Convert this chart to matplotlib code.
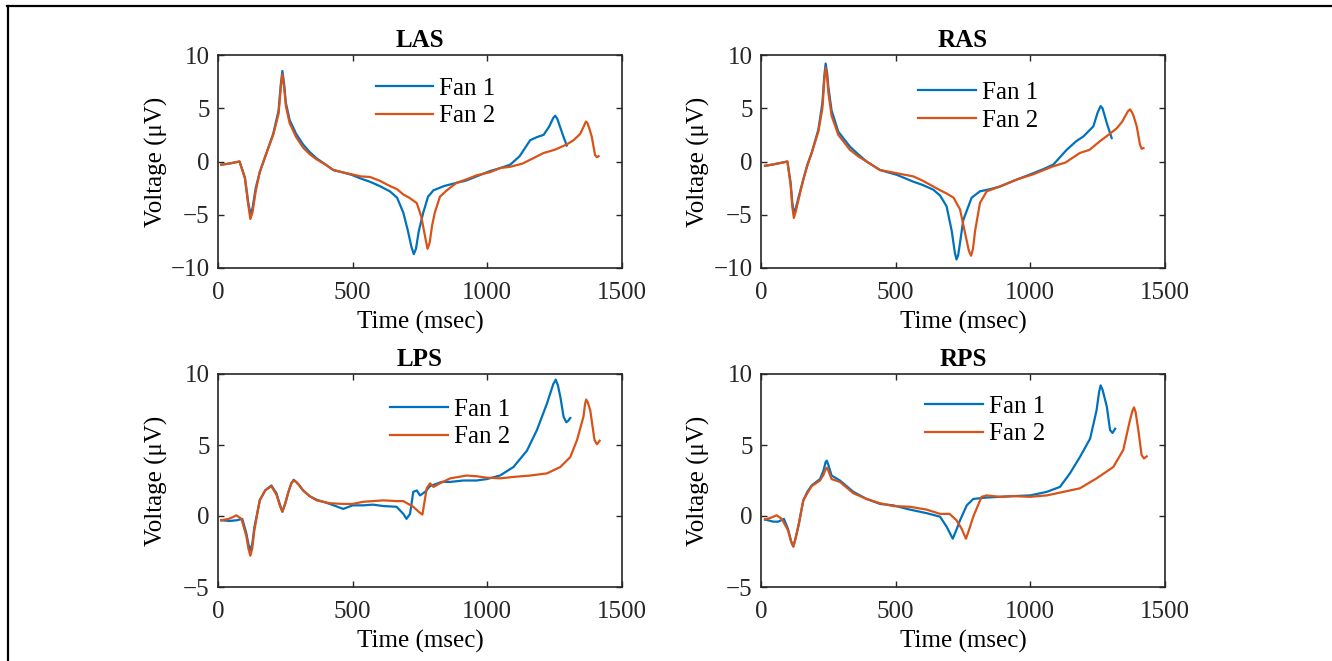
import numpy as np
import matplotlib
matplotlib.use("Agg")
import matplotlib.pyplot as plt
from matplotlib.lines import Line2D

plt.rcParams['font.family'] = ['Liberation Serif', 'DejaVu Serif']
plt.rcParams['font.size'] = 18

BLUE = "#0072BD"
ORANGE = "#D95319"
AX_COLOR = "#262626"

# ---- data (time in msec, voltage in uV) ----
# LAS
las_t1 = [12, 40, 80, 100, 112, 120, 128, 140, 155, 180, 205, 225, 233, 239, 245, 252, 266, 290,
          316, 340, 366, 400, 428, 460, 496, 530, 564, 600, 638, 665, 688, 705, 718, 727, 735,
          745, 762, 780, 800, 840, 886, 920, 960, 1010, 1050, 1085, 1120, 1159, 1185, 1209,
          1230, 1245, 1252, 1260, 1268, 1283, 1295]
las_v1 = [-0.3, -0.2, 0.0, -1.5, -3.8, -4.9, -4.4, -2.5, -1.0, 0.8, 2.6, 4.8, 7.2, 8.5, 7.4,
          5.5, 3.9, 2.6, 1.6, 0.9, 0.3, -0.3, -0.8, -1.0, -1.25, -1.6, -1.9, -2.3, -2.8, -3.4,
          -4.8, -6.5, -8.0, -8.7, -8.2, -6.6, -4.8, -3.3, -2.7, -2.3, -2.0, -1.8, -1.4, -0.9,
          -0.6, -0.3, 0.5, 2.0, 2.3, 2.5, 3.3, 4.1, 4.3, 4.0, 3.4, 2.3, 1.5]
las_t2 = [12, 40, 80, 100, 112, 120, 128, 140, 155, 180, 205, 225, 233, 239, 245, 252, 266, 290,
          316, 340, 366, 400, 428, 460, 496, 530, 564, 600, 638, 665, 688, 710, 738, 755, 770,
          778, 786, 795, 805, 824, 850, 886, 920, 960, 1010, 1050, 1085, 1130, 1170, 1209,
          1250, 1295, 1320, 1345, 1358, 1366, 1372, 1380, 1388, 1395, 1400, 1407, 1413]
las_v2 = [-0.3, -0.2, 0.0, -1.6, -4.0, -5.4, -4.8, -2.8, -1.0, 0.8, 2.5, 4.5, 6.9, 8.2, 7.1,
          5.2, 3.6, 2.3, 1.3, 0.7, 0.2, -0.3, -0.8, -1.0, -1.2, -1.4, -1.45, -1.8, -2.3, -2.6,
          -3.1, -3.4, -3.9, -5.2, -7.2, -8.2, -7.6, -6.0, -4.8, -3.3, -2.7, -2.0, -1.7, -1.3,
          -1.0, -0.6, -0.5, -0.2, 0.3, 0.8, 1.1, 1.6, 2.0, 2.6, 3.3, 3.75, 3.6, 3.0, 2.3, 1.3,
          0.6, 0.4, 0.5]

# RAS
ras_t1 = [15, 40, 70, 98, 110, 116, 122, 130, 140, 157, 172, 188, 213, 228, 235, 240, 246, 250,
          262, 287, 330, 360, 392, 442, 504, 566, 600, 640, 665, 689, 708, 720, 726, 732, 738,
          751, 782, 813, 850, 887, 949, 1011, 1050, 1085, 1135, 1170, 1197, 1234, 1250, 1261,
          1268, 1276, 1284, 1302]
ras_v1 = [-0.4, -0.3, -0.15, 0.0, -2.0, -3.8, -4.9, -4.3, -3.3, -1.7, -0.3, 0.8, 3.0, 5.5, 8.0,
          9.2, 8.2, 7.0, 4.8, 2.8, 1.4, 0.7, 0.0, -0.8, -1.25, -1.9, -2.2, -2.65, -3.2, -4.2,
          -6.5, -8.6, -9.2, -8.8, -7.8, -5.5, -3.4, -2.8, -2.6, -2.35, -1.7, -1.1, -0.7, -0.3,
          1.1, 1.9, 2.35, 3.3, 4.6, 5.2, 5.0, 4.3, 3.6, 2.2]
ras_t2 = [15, 40, 70, 98, 110, 116, 122, 130, 140, 157, 172, 188, 213, 228, 235, 240, 246, 250,
          262, 287, 330, 360, 392, 442, 504, 566, 600, 640, 665, 689, 715, 739, 760, 772, 780,
          787, 795, 813, 838, 887, 949, 1011, 1050, 1085, 1130, 1184, 1220, 1258, 1290, 1320,
          1340, 1351, 1362, 1370, 1378, 1383, 1395, 1407, 1413, 1420]
ras_v2 = [-0.4, -0.3, -0.15, 0.0, -2.2, -4.2, -5.3, -4.6, -3.5, -1.7, -0.4, 0.8, 2.8, 5.0, 7.6,
          8.8, 7.8, 6.5, 4.3, 2.5, 1.1, 0.5, 0.0, -0.8, -1.1, -1.4, -1.8, -2.35, -2.7, -3.0,
          -3.4, -4.5, -7.0, -8.4, -8.85, -8.2, -6.5, -3.9, -2.8, -2.35, -1.7, -1.2, -0.8, -0.45,
          -0.1, 0.8, 1.1, 1.9, 2.5, 3.1, 3.7, 4.2, 4.7, 4.9, 4.6, 4.3, 3.3, 1.6, 1.2, 1.25]

# LPS
lps_t1 = [12, 43, 70, 90, 105, 113, 120, 127, 135, 155, 175, 198, 217, 230, 239, 250, 260, 272,
          281, 290, 300, 316, 340, 366, 415, 465, 500, 539, 575, 614, 663, 688, 700, 713, 725,
          738, 750, 769, 787, 830, 862, 911, 960, 998, 1047, 1097, 1147, 1184, 1221, 1245, 1254,
          1262, 1271, 1283, 1293, 1300, 1308]
lps_v1 = [-0.3, -0.35, -0.3, -0.2, -1.2, -2.0, -2.4, -2.0, -0.8, 1.1, 1.8, 2.15, 1.6, 0.8, 0.3,
          0.9, 1.6, 2.3, 2.55, 2.4, 2.2, 1.8, 1.4, 1.15, 0.85, 0.5, 0.75, 0.75, 0.8, 0.7, 0.65,
          0.15, -0.2, 0.15, 1.7, 1.8, 1.45, 1.7, 2.1, 2.4, 2.4, 2.5, 2.5, 2.6, 2.85, 3.45, 4.6,
          6.05, 7.9, 9.3, 9.6, 9.2, 8.4, 7.0, 6.6, 6.7, 6.9]
lps_t2 = [12, 40, 56, 68, 87, 105, 113, 120, 127, 135, 155, 175, 198, 217, 230, 239, 250, 260,
          272, 281, 290, 300, 316, 340, 366, 415, 465, 500, 539, 575, 614, 663, 688, 725, 745,
          759, 775, 787, 800, 824, 862, 923, 960, 998, 1047, 1097, 1159, 1221, 1271, 1308, 1333,
          1357, 1363, 1367, 1373, 1382, 1398, 1407, 1417]
lps_v2 = [-0.3, -0.2, -0.07, 0.05, -0.2, -1.4, -2.3, -2.8, -2.3, -1.0, 1.1, 1.8, 2.1, 1.5, 0.7,
          0.3, 0.9, 1.6, 2.3, 2.5, 2.4, 2.2, 1.8, 1.4, 1.1, 0.9, 0.85, 0.85, 1.0, 1.05, 1.1, 1.05,
          1.05, 0.65, 0.3, 0.1, 1.95, 2.3, 2.05, 2.3, 2.65, 2.85, 2.8, 2.7, 2.65, 2.75, 2.85,
          3.0, 3.45, 4.15, 5.35, 7.0, 7.9, 8.2, 8.0, 7.45, 5.35, 5.05, 5.3]

# RPS
rps_t1 = [15, 46, 64, 85, 100, 112, 120, 128, 140, 157, 172, 188, 219, 232, 240, 244, 250, 262,
          293, 343, 392, 442, 491, 553, 615, 665, 689, 712, 725, 739, 764, 788, 837, 887, 937,
          999, 1061, 1110, 1147, 1184, 1222, 1246, 1255, 1261, 1268, 1284, 1296, 1305, 1315]
rps_v1 = [-0.25, -0.4, -0.4, -0.2, -0.9, -1.8, -2.15, -1.6, -0.6, 1.1, 1.7, 2.15, 2.6, 3.2, 3.8,
          3.9, 3.6, 2.85, 2.5, 1.7, 1.2, 0.85, 0.75, 0.45, 0.2, -0.05, -0.75, -1.6, -1.0, -0.3,
          0.75, 1.2, 1.3, 1.35, 1.4, 1.45, 1.7, 2.05, 3.0, 4.15, 5.45, 7.45, 8.7, 9.2, 8.9, 7.7,
          6.05, 5.85, 6.15]
rps_t2 = [15, 40, 58, 77, 100, 112, 120, 128, 140, 157, 172, 188, 219, 232, 240, 244, 250, 262,
          293, 343, 392, 442, 491, 553, 615, 665, 700, 726, 745, 761, 772, 788, 819, 838, 887,
          937, 999, 1061, 1123, 1184, 1246, 1308, 1345, 1370, 1379, 1385, 1391, 1401, 1413,
          1422, 1432]
rps_v2 = [-0.25, -0.1, 0.05, -0.2, -1.0, -1.8, -2.15, -1.6, -0.6, 1.1, 1.6, 2.1, 2.5, 2.9, 3.3,
          3.4, 3.2, 2.6, 2.4, 1.6, 1.2, 0.9, 0.7, 0.65, 0.45, 0.15, 0.15, -0.3, -0.9, -1.6,
          -1.0, -0.05, 1.35, 1.45, 1.35, 1.4, 1.35, 1.45, 1.7, 1.95, 2.65, 3.45, 4.65, 6.75, 7.4,
          7.65, 7.3, 6.05, 4.3, 4.05, 4.2]

titles = ["LAS", "RAS", "LPS", "RPS"]
fan1 = [(las_t1, las_v1), (ras_t1, ras_v1), (lps_t1, lps_v1), (rps_t1, rps_v1)]
fan2 = [(las_t2, las_v2), (ras_t2, ras_v2), (lps_t2, lps_v2), (rps_t2, rps_v2)]
y_limits = [(-10, 10), (-10, 10), (-5, 10), (-5, 10)]
y_ticks = [[-10, -5, 0, 5, 10], [-10, -5, 0, 5, 10], [-5, 0, 5, 10], [-5, 0, 5, 10]]
x_ticks = [0, 500, 1000, 1500]
legend_anchor = [(0.39, 0.895), (0.389, 0.875), (0.426, 0.885), (0.406, 0.90)]

W, H = 1332, 661
fig = plt.figure(figsize=(W / 100, H / 100), dpi=100)

# axes boxes in pixels: left, top, right, bottom
boxes = [(218, 55, 622, 268), (761, 55, 1165, 268), (218, 374, 622, 587), (761, 374, 1165, 587)]

for i, (l, t, r, b) in enumerate(boxes):
    ax = fig.add_axes([l / W, 1 - b / H, (r - l) / W, (b - t) / H])
    ax.plot(*fan1[i], color=BLUE, lw=1.6, label="Fan 1")
    ax.plot(*fan2[i], color=ORANGE, lw=1.6, label="Fan 2")
    ax.set_xlim(0, 1500)
    ax.set_ylim(*y_limits[i])
    ax.set_xticks(x_ticks)
    ax.set_yticks(y_ticks[i])
    ax.set_title(titles[i], fontweight="bold", fontsize=18, pad=6)
    ax.set_xlabel("Time (msec)", fontsize=18, labelpad=5)
    ax.set_ylabel("Voltage (\u03bcV)", fontsize=18)
    ax.yaxis.set_label_coords(-0.125, 0.5)
    ax.tick_params(direction="in", top=True, right=True, length=4, width=1.0,
                   colors=AX_COLOR, labelsize=18)
    ax.tick_params(axis="x", pad=10)
    ax.tick_params(axis="y", pad=6)
    for s in ax.spines.values():
        s.set_color(AX_COLOR)
        s.set_linewidth(1.2)
    ax.legend(loc="upper left", bbox_to_anchor=legend_anchor[i], frameon=False,
              borderpad=0, borderaxespad=0, handlelength=2.3, handletextpad=0.25,
              labelspacing=0.2, fontsize=18)

# outer frame (top and left edges)
fig.add_artist(Line2D([7 / W, 1.0], [1 - 6 / H, 1 - 6 / H], color="black", lw=1.6,
                      transform=fig.transFigure))
fig.add_artist(Line2D([8 / W, 8 / W], [1 - 6 / H, 0.0], color="black", lw=1.6,
                      transform=fig.transFigure))

fig.savefig("out.png", dpi=100)
